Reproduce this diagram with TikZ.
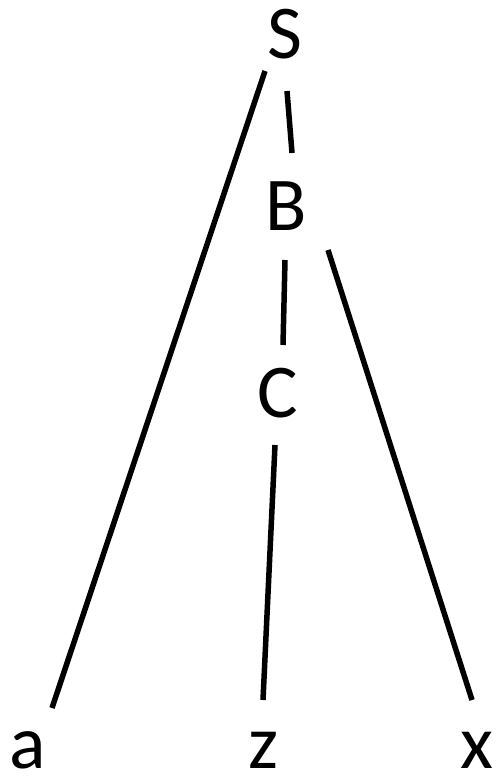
\documentclass[tikz,border=0pt]{standalone}
\usepackage{fontspec}
\setmainfont{Carlito}
\begin{document}
\begin{tikzpicture}[x=1pt,y=-1pt,
  lbl/.style={inner sep=0pt,font=\fontsize{76}{80}\selectfont},
  edge/.style={line width=5.5pt}]
\useasboundingbox (0,0) rectangle (498,778);
\node[lbl] (S) at (285,34) {S};
\node[lbl] (B) at (286,206) {B};
\node[lbl] (C) at (278,393) {C};
\node[lbl] (a) at (28,750) {a};
\node[lbl] (z) at (264,750) {z};
\node[lbl] (x) at (477,750) {x};
\draw[edge] ([shift={(-20,37)}]S.center) -- ([shift={(24,-42)}]a.center);
\draw[edge] ([shift={(2,57)}]S.center) -- ([shift={(6,-53)}]B.center);
\draw[edge] ([shift={(-1,54)}]B.center) -- ([shift={(5,-48)}]C.center);
\draw[edge] ([shift={(42,44)}]B.center) -- ([shift={(-5,-50)}]x.center);
\draw[edge] ([shift={(-3,52)}]C.center) -- ([shift={(-1,-50)}]z.center);
\end{tikzpicture}
\end{document}
